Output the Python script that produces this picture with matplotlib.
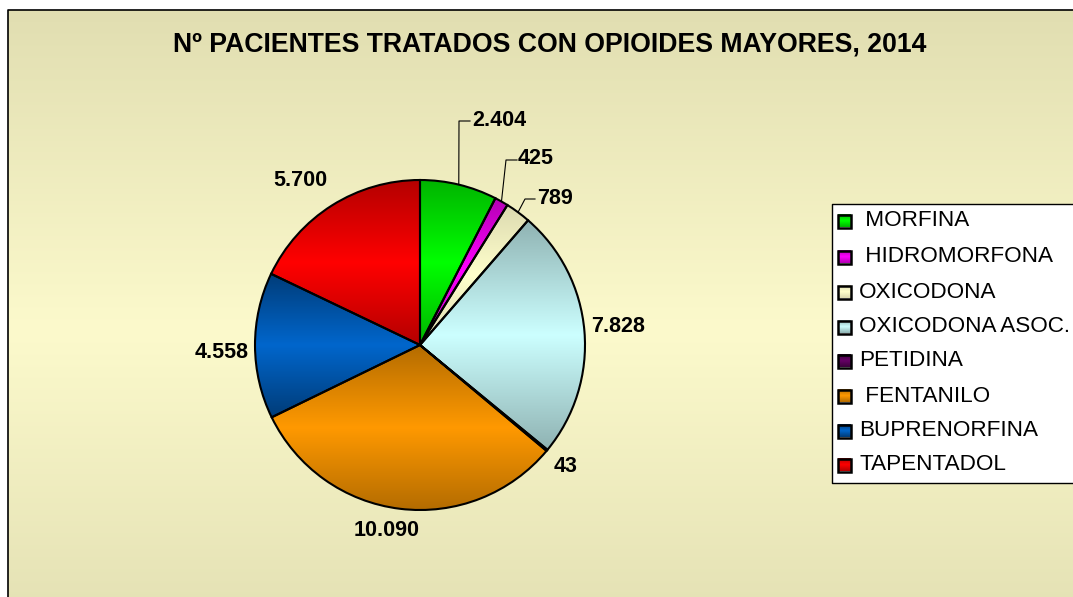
import numpy as np
import matplotlib
matplotlib.use('Agg')
from matplotlib import pyplot as plt
from matplotlib.patches import Rectangle
from matplotlib.colors import to_rgb

# values, clockwise from 12 o'clock
labels = [' MORFINA', ' HIDROMORFONA', 'OXICODONA', 'OXICODONA ASOC.', 'PETIDINA', ' FENTANILO', 'BUPRENORFINA', 'TAPENTADOL']
pacientes = [2404, 425, 789, 7828, 43, 10090, 4558, 5700]

# bright (middle) and dark (top/bottom) colour of each slice gradient
bright_colors = ['#00ff00', '#ff00ff', '#ffffcc', '#ccffff', '#660066', '#ff9900', '#0066cc', '#ff0000']
dark_colors = ['#00b400', '#b400b4', '#dcdab0', '#8fb2b2', '#3c003c', '#b46c00', '#003c78', '#b40000']

# value label positions, pixels from the top left corner
label_pos = [(499, 121), (536, 159), (555, 199), (618, 327), (566, 466), (387, 530), (222, 352), (300, 180)]
# leader line elbows for the small slices
leader_elbows = {0: [(459, 121), (470, 121)], 1: [(506, 160), (517, 160)], 2: [(525, 199), (535, 199)]}

W, H = 1073, 597
FONT = 'Liberation Sans'


def gradient(dark, bright, n=256):
    # vertical gradient: dark at top and bottom, bright in the middle
    t = np.abs(np.linspace(-1, 1, n))[:, None, None]
    d = np.array(to_rgb(dark))[None, None, :]
    b = np.array(to_rgb(bright))[None, None, :]
    return b + (d - b) * t


def fmt(v):
    return '{:,}'.format(v).replace(',', '.')


fig = plt.figure(figsize=(W / 100, H / 100), dpi=100)
fig.patch.set_facecolor('white')
ax = fig.add_axes([0, 0, 1, 1])

# chart area background, khaki at the edges and light yellow in the middle
# (gradient runs on below the picture, the chart frame is cut off there)
bg = gradient('#e1deb1', '#fcfacc', 640)[:597 - 10]
ax.imshow(bg, extent=(8, W + 2, -2, H - 10), aspect='auto', interpolation='nearest', zorder=0)
# only the left and top border are inside the picture
ax.plot([8, 8, W + 5], [-5, H - 10, H - 10], color='black', linewidth=1.2, zorder=1, clip_on=False)

# the pie
center = (420, H - 345)
radius = 165
wedges, _ = ax.pie(pacientes, colors=bright_colors, startangle=90, counterclock=False,
                   center=center, radius=radius,
                   wedgeprops=dict(edgecolor='black', linewidth=1.5))

for i, w in enumerate(wedges):
    ext = w.get_path().get_extents()
    im = ax.imshow(gradient(dark_colors[i], bright_colors[i]), extent=(ext.x0, ext.x1, ext.y0, ext.y1),
                   aspect='auto', interpolation='bilinear', zorder=2)
    im.set_clip_path(w)
    w.set_facecolor('none')
    w.set_zorder(3)

# value labels and leader lines
for i, w in enumerate(wedges):
    x, y = label_pos[i]
    ax.text(x, H - y, fmt(pacientes[i]), ha='center', va='center', fontsize=15.5,
            fontweight='bold', family=FONT, zorder=5)
    if i in leader_elbows:
        ang = np.deg2rad((w.theta1 + w.theta2) / 2)
        xs = [center[0] + radius * np.cos(ang)] + [p[0] for p in leader_elbows[i]]
        ys = [center[1] + radius * np.sin(ang)] + [H - p[1] for p in leader_elbows[i]]
        ax.plot(xs, ys, color='black', linewidth=0.8, zorder=4)

# title
ax.text(550, H - 45, 'Nº PACIENTES TRATADOS CON OPIOIDES MAYORES, 2014', ha='center', va='center',
        fontsize=19.2, fontweight='bold', family=FONT, zorder=5)

# legend box, runs off the right edge like the original
ax.add_patch(Rectangle((832, H - 483), W - 832 + 5, 279, facecolor='white', edgecolor='none',
                       zorder=4, clip_on=False))
ax.plot([W + 5, 832, 832, W + 5], [H - 204, H - 204, H - 483, H - 483], color='black', linewidth=1,
        zorder=4, clip_on=False)
legend_y = [221, 257, 292, 327, 361, 396, 431, 465]
for i, lab in enumerate(labels):
    y = H - legend_y[i]
    # small shaded swatch with a black edge, like the slices
    ax.imshow(gradient(dark_colors[i], bright_colors[i], 32), extent=(838, 851, y - 6.5, y + 6.5),
              aspect='auto', interpolation='bilinear', zorder=5)
    ax.add_patch(Rectangle((838, y - 6.5), 13, 13, facecolor='none', edgecolor='black',
                           linewidth=1.8, zorder=6))
    ax.text(859, y, lab, ha='left', va='center', fontsize=16.2, family=FONT, zorder=5)

ax.set_xlim(0, W)
ax.set_ylim(0, H)
ax.set_aspect('auto')
ax.axis('off')

plt.savefig('out.png', dpi=100)
plt.close()
